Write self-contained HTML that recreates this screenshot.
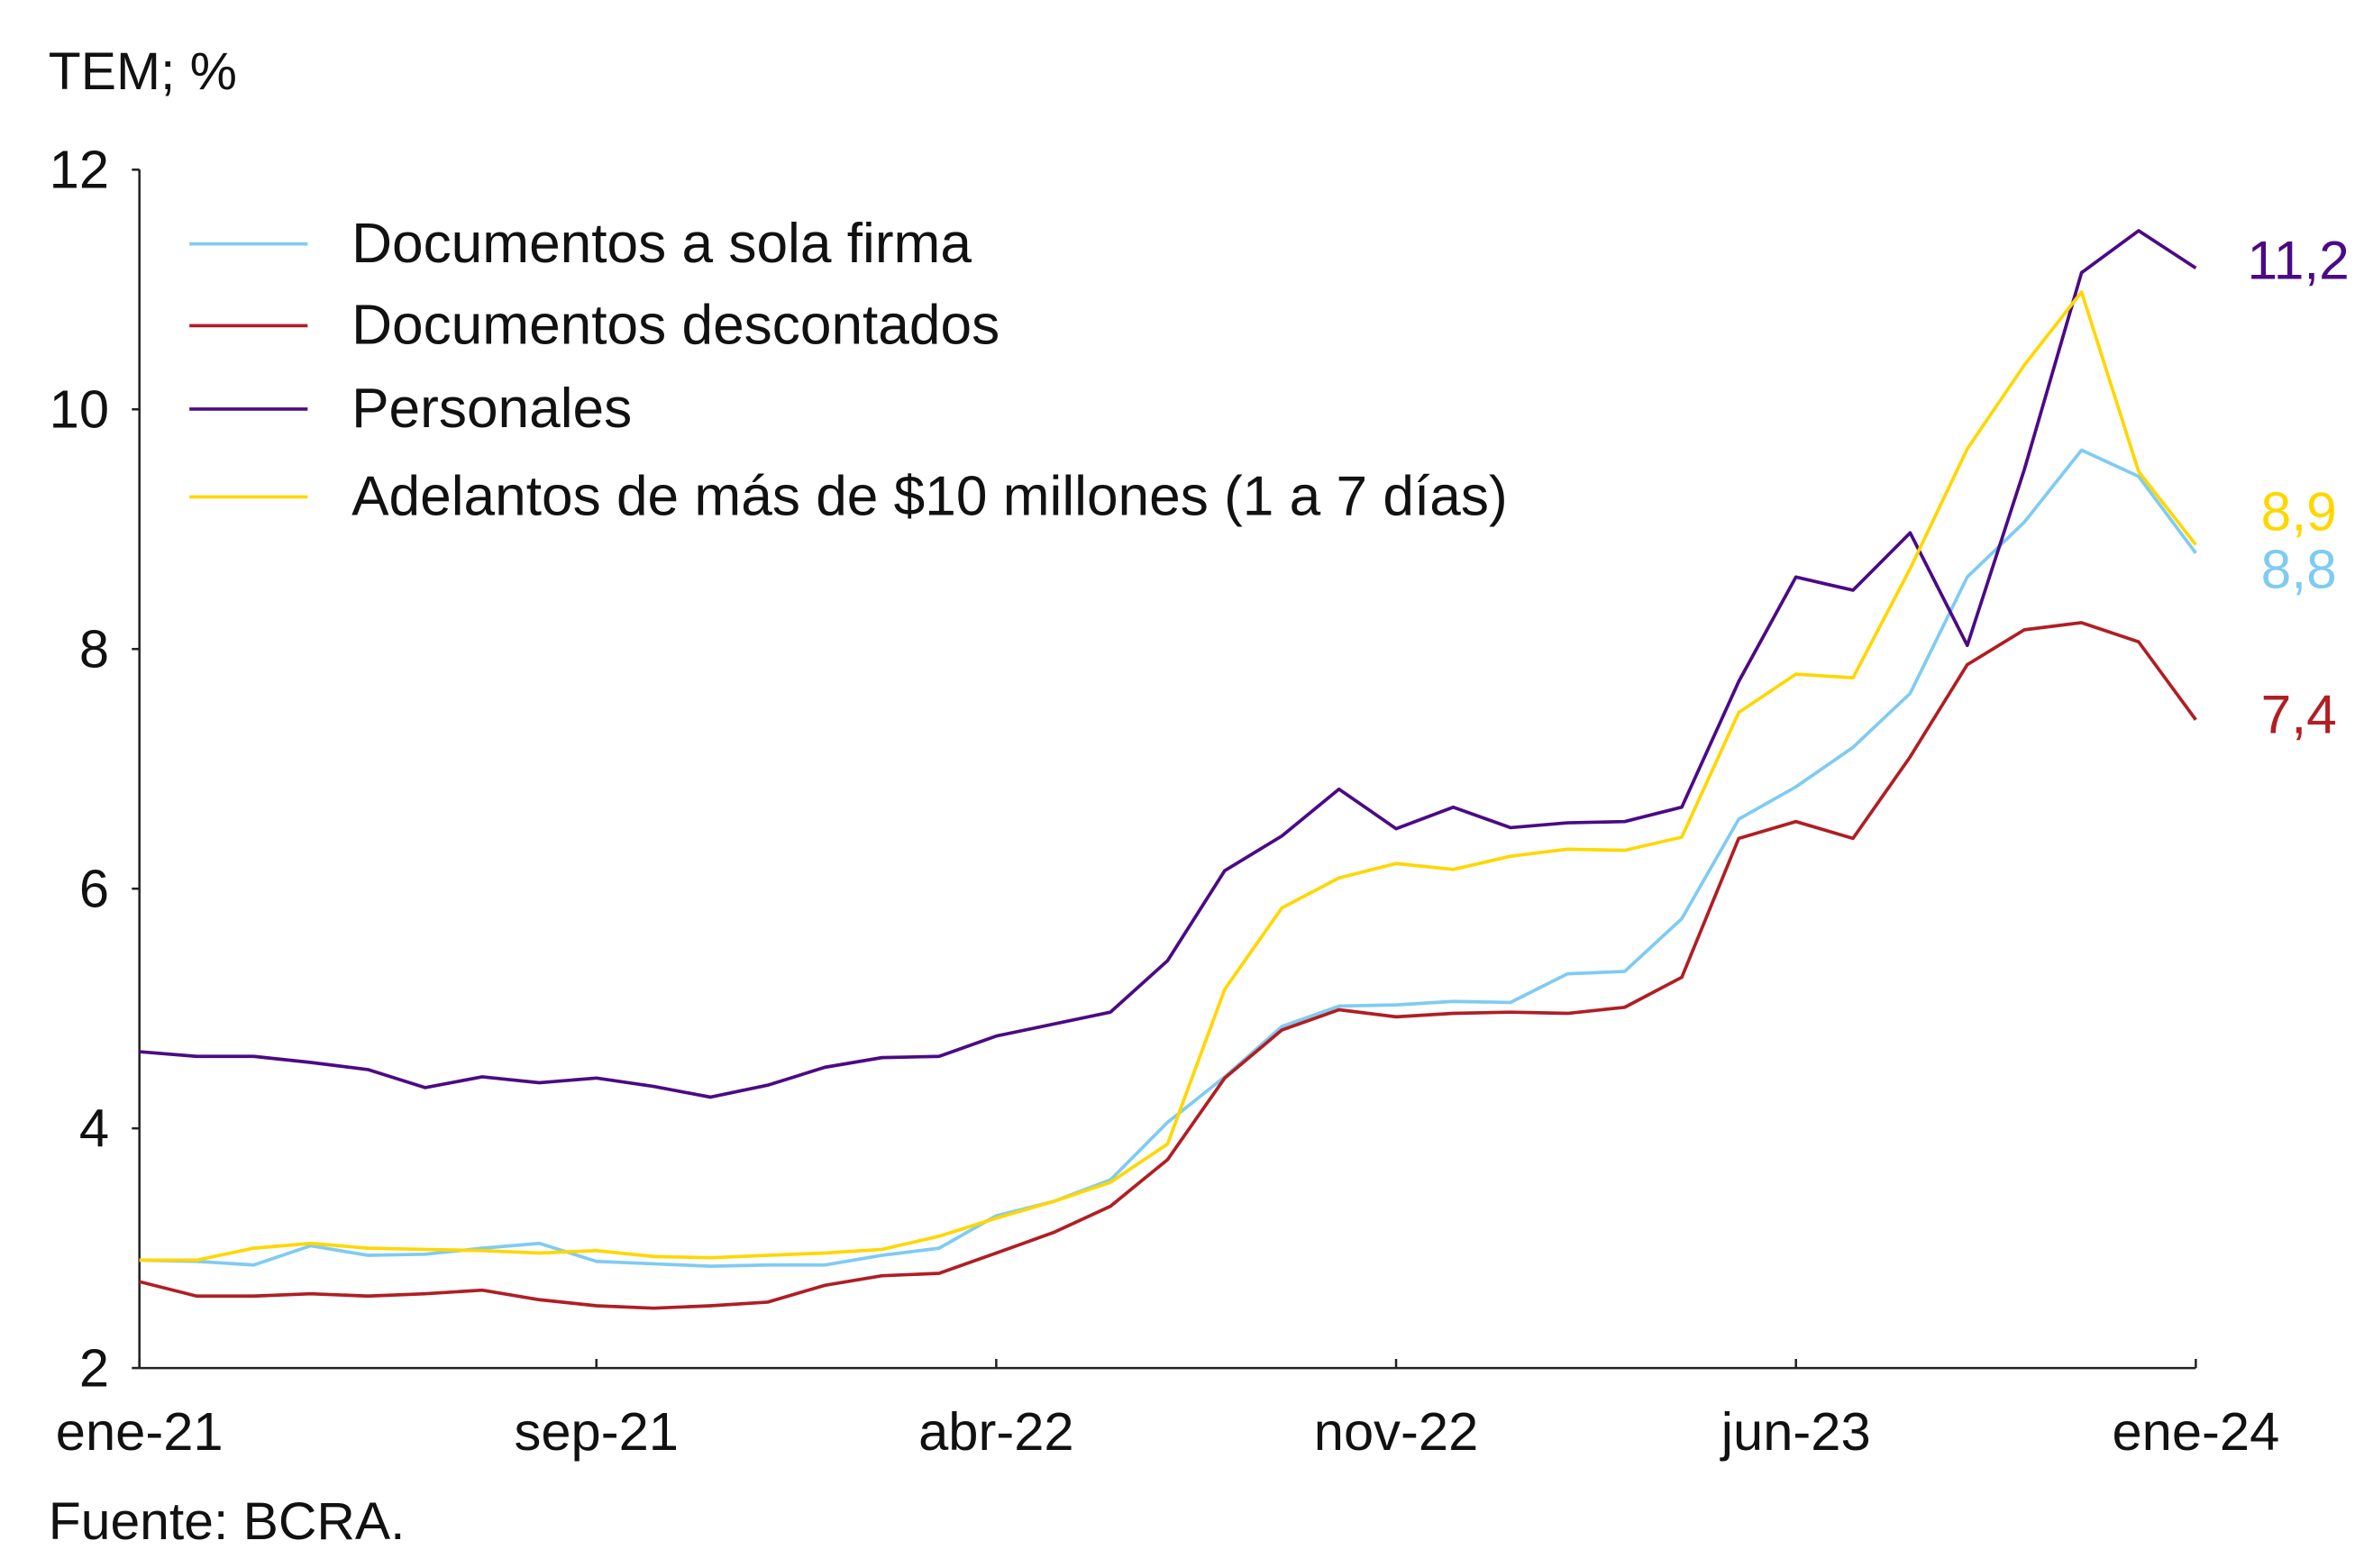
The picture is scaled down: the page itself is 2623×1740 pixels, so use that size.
<!DOCTYPE html>
<html><head><meta charset="utf-8"><style>
html,body{margin:0;padding:0;background:#fff;}
svg{display:block;font-family:"Liberation Sans",sans-serif;}
</style></head><body>
<svg id="chart" width="2623" height="1740" viewBox="0 0 1560 1035" preserveAspectRatio="none" xmlns="http://www.w3.org/2000/svg">
<text x="32" y="59" font-size="35" fill="#111">TEM; %</text>
<text x="32" y="1016" font-size="35" fill="#111">Fuente: BCRA.</text>
<g id="axes"></g>
<g id="series"></g>
<g id="legend"></g>
</svg>
<script>
const yTicks=[2,4,6,8,10,12];
const xTickLabels=["ene-21","sep-21","abr-22","nov-22","jun-23","ene-24"];
const xTickIdx=[0,8,15,22,29,36];
const seriesNames=["Documentos a sola firma","Documentos descontados","Personales","Adelantos de más de $10 millones (1 a 7 días)"];
const seriesColors=["#7fcbf2","#b01e23","#4b0a85","#ffd700"];
const endLabels=["8,8","7,4","11,2","8,9"];
const solaFirma=[2.90,2.89,2.86,3.02,2.94,2.95,3.00,3.04,2.89,2.87,2.85,2.86,2.86,2.94,3.00,3.27,3.39,3.57,4.05,4.43,4.85,5.02,5.03,5.06,5.05,5.29,5.31,5.75,6.58,6.85,7.18,7.63,8.60,9.06,9.66,9.44,8.80];
const descontados=[2.72,2.60,2.60,2.62,2.60,2.62,2.65,2.57,2.52,2.50,2.52,2.55,2.69,2.77,2.79,2.96,3.13,3.35,3.74,4.42,4.82,4.99,4.93,4.96,4.97,4.96,5.01,5.26,6.42,6.56,6.42,7.10,7.87,8.16,8.22,8.06,7.41];
const personales=[4.64,4.60,4.60,4.55,4.49,4.34,4.43,4.38,4.42,4.35,4.26,4.36,4.51,4.59,4.60,4.77,4.87,4.97,5.40,6.15,6.44,6.83,6.50,6.68,6.51,6.55,6.56,6.68,7.73,8.60,8.49,8.97,8.03,9.50,11.14,11.49,11.18];
const adelantos=[2.90,2.90,3.00,3.04,3.00,2.99,2.98,2.96,2.98,2.93,2.92,2.94,2.96,2.99,3.10,3.25,3.39,3.55,3.87,5.16,5.84,6.09,6.21,6.16,6.27,6.33,6.32,6.43,7.47,7.79,7.76,8.67,9.67,10.37,10.98,9.48,8.87];
const allSeries=[solaFirma,descontados,personales,adelantos];
const endLabelY=[388,484,184,350];

const NS="http://www.w3.org/2000/svg";
const X0=92,X1=1449,Y0=903,Y1=112,YMIN=2,YMAX=12,N=36;
const xs=i=>X0+(X1-X0)*i/N;
const ys=v=>Y0-(v-YMIN)/(YMAX-YMIN)*(Y0-Y1);
function mk(tag,attrs,parent,txt){const e=document.createElementNS(NS,tag);for(const k in attrs)e.setAttribute(k,attrs[k]);if(txt!==undefined)e.textContent=txt;parent.appendChild(e);return e;}
const axes=document.getElementById('axes'),ser=document.getElementById('series'),leg=document.getElementById('legend');
let a=mk('line',{x1:X0,y1:Y1,x2:X0,y2:Y0,stroke:'#222','stroke-width':1.5},axes);


a=mk('line',{x1:X0,y1:Y0,x2:X1,y2:Y0,stroke:'#222','stroke-width':1.5},axes);


yTicks.forEach(v=>{
  const t=mk('line',{x1:X0-5,y1:ys(v),x2:X0,y2:ys(v),stroke:'#222','stroke-width':1.5},axes);
  
  
  const l=mk('text',{x:72,y:ys(v)+12,'font-size':35.5,'text-anchor':'end',fill:'#111'},axes,String(v));
  
  
});
xTickIdx.forEach((idx,k)=>{
  const t=mk('line',{x1:xs(idx),y1:Y0,x2:xs(idx),y2:Y0-6,stroke:'#222','stroke-width':1.5},axes);
  
  
  const l=mk('text',{x:xs(idx),y:957,'font-size':35.5,'text-anchor':'middle',fill:'#111'},axes,xTickLabels[k]);
  
  
});
allSeries.forEach((d,s)=>{
  const pts=d.map((v,i)=>xs(i).toFixed(1)+','+ys(v).toFixed(1)).join(' ');
  const p=mk('polyline',{points:pts,fill:'none',stroke:seriesColors[s],'stroke-width':2.2,'stroke-linejoin':'round'},ser);
  
  
  const lb=mk('text',{x:s===2?1483:1492,y:endLabelY[s],'font-size':36,fill:seriesColors[s]},ser,endLabels[s]);
  
  
});
const legY=[161,215,270,328];
seriesNames.forEach((n,s)=>{
  const l=mk('line',{x1:125,y1:legY[s],x2:203,y2:legY[s],stroke:seriesColors[s],'stroke-width':2.2},leg);
  
  
  const t=mk('text',{x:232,y:legY[s]+12,'font-size':37,fill:'#111'},leg,n);
  
  
});
</script>
</body></html>
